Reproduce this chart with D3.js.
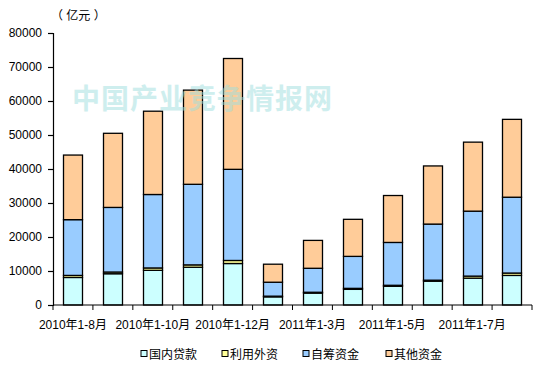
<!DOCTYPE html>
<html>
<head>
<meta charset="utf-8">
<script src="https://cdn.jsdelivr.net/npm/d3@7"></script>
<style>
  body { margin: 0; background: #fff; }
  svg text { font-family: "Liberation Sans", Arial, "Noto Sans CJK SC", sans-serif; }
</style>
</head>
<body>
<div id="chart"></div>
<script>
const periods = ["2010年1-8月", "2010年1-9月", "2010年1-10月", "2010年1-11月", "2010年1-12月",
                 "2011年1-2月", "2011年1-3月", "2011年1-4月", "2011年1-5月", "2011年1-6月",
                 "2011年1-7月", "2011年1-8月"];
const seriesNames = ["国内贷款", "利用外资", "自筹资金", "其他资金"];
const domesticLoans = [8100, 9200, 10200, 11100, 12200, 2400, 3500, 4600, 5500, 7000, 7900, 8700];
const foreignCapital = [600, 500, 700, 700, 900, 200, 250, 300, 300, 300, 600, 700];
const selfRaised = [16400, 19000, 21600, 23700, 26800, 4100, 7050, 9400, 12600, 16500, 19100, 22300];
const otherFunds = [19000, 21800, 24500, 27700, 32600, 5300, 8200, 10900, 13800, 17100, 20300, 22900];
const yTicks = [0, 10000, 20000, 30000, 40000, 50000, 60000, 70000, 80000];
const COLORS = ["#CCFFFF", "#FFFF99", "#99CCFF", "#FFCC99"];

const W = 549, H = 373;
const margin = { left: 53, right: 17, top: 33, bottom: 68 };

const svg = d3.select("#chart").append("svg")
  .attr("width", W).attr("height", H);

const x = d3.scaleBand().domain(periods)
  .range([margin.left, W - margin.right]).paddingInner(0.52).paddingOuter(0.26);
const y = d3.scaleLinear().domain([0, 80000]).range([H - margin.bottom, margin.top]);

const rows = periods.map((p, i) => ({
  period: p,
  [seriesNames[0]]: domesticLoans[i],
  [seriesNames[1]]: foreignCapital[i],
  [seriesNames[2]]: selfRaised[i],
  [seriesNames[3]]: otherFunds[i]
}));
const stacked = d3.stack().keys(seriesNames)(rows);

// bars
svg.append("g").selectAll("g")
  .data(stacked)
  .join("g")
  .attr("fill", (d, i) => COLORS[i])
  .selectAll("rect")
  .data(d => d)
  .join("rect")
  .attr("x", d => Math.round(x(d.data.period)) + 0.5)
  .attr("y", d => y(d[1]))
  .attr("width", Math.round(x.bandwidth()))
  .attr("height", d => y(d[0]) - y(d[1]))
  .attr("stroke", "#000")
  .attr("stroke-width", 1.3);

// y axis
const yAxis = svg.append("g")
  .attr("transform", `translate(${margin.left},0)`)
  .call(d3.axisLeft(y).tickValues(yTicks).tickSize(5).tickPadding(6).tickFormat(d3.format("d")));
yAxis.selectAll("text").attr("font-size", 12).attr("fill", "#000");
yAxis.selectAll("line, path").attr("stroke", "#000").attr("stroke-width", 1.2);

// x axis: ticks on category boundaries
const x0 = margin.left;
const xg = svg.append("g").attr("transform", `translate(0,${y(0)})`);
xg.append("line").attr("x1", x0).attr("x2", W - margin.right)
  .attr("stroke", "#000").attr("stroke-width", 1.2);
xg.selectAll(".tk").data(d3.range(periods.length + 1)).join("line")
  .attr("x1", i => x0 + i * (W - margin.right - x0) / periods.length)
  .attr("x2", i => x0 + i * (W - margin.right - x0) / periods.length)
  .attr("y1", 0).attr("y2", 5)
  .attr("stroke", "#000");
xg.selectAll(".lbl").data(periods.filter((p, i) => i % 2 === 0)).join("text")
  .attr("x", p => x(p) + x.bandwidth() / 2)
  .attr("y", 24)
  .attr("text-anchor", "middle")
  .attr("font-size", 12)
  .text(p => p);

// unit label
svg.append("text").attr("x", 51).attr("y", 20).attr("font-size", 12).text("（ 亿元 ）");

// watermark
svg.append("text")
  .attr("x", 72).attr("y", 109)
  .attr("font-size", 28)
  .attr("letter-spacing", 1)
  .attr("fill", "#9edede")
  .attr("opacity", 0.5)
  .attr("font-weight", "bold")
  .style("font-family", "'Noto Sans CJK SC', sans-serif")
  .text("中国产业竞争情报网");

// legend
const legendX = [141, 222, 303, 386];
const legend = svg.append("g").selectAll("g")
  .data(seriesNames)
  .join("g")
  .attr("transform", (d, i) => `translate(${legendX[i]},354)`);
legend.append("rect")
  .attr("x", 0).attr("y", -3.5).attr("width", 6).attr("height", 6)
  .attr("fill", (d, i) => COLORS[i]).attr("stroke", "#000");
legend.append("text")
  .attr("x", 8).attr("y", 4.5)
  .attr("font-size", 12)
  .text(d => d);
</script>
</body>
</html>
